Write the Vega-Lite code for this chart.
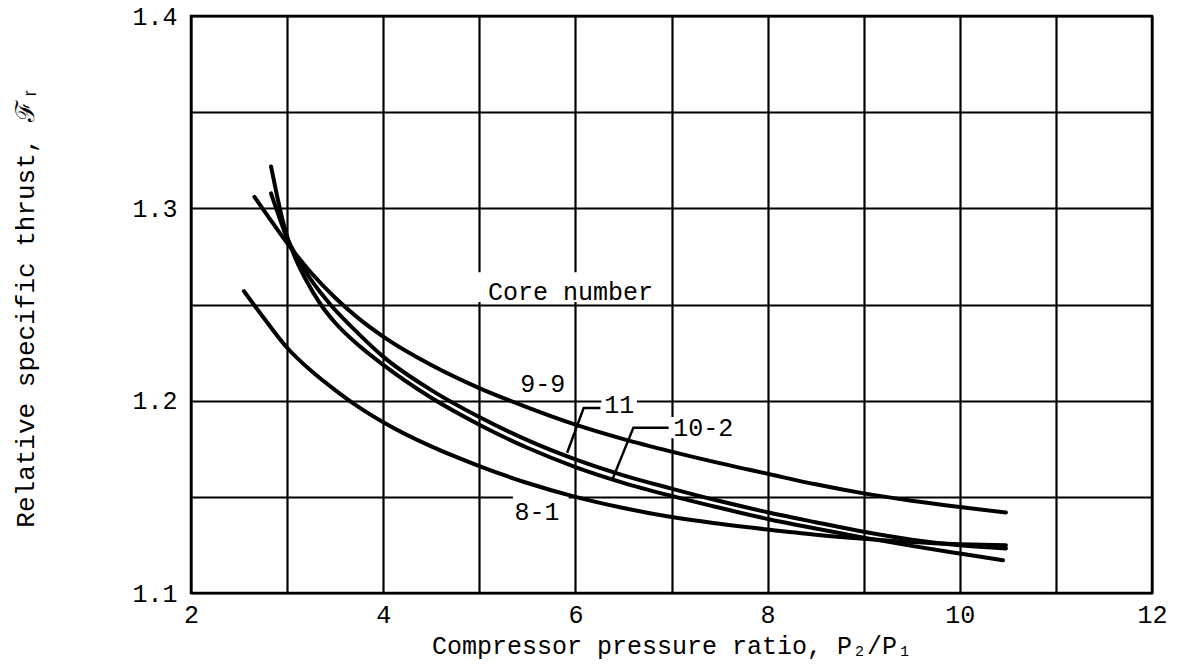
{
  "$schema": "https://vega.github.io/schema/vega-lite/v6.json",
  "width": 961,
  "height": 577,
  "autosize": {"type": "none"},
  "padding": {"left": 191, "top": 16, "right": 34, "bottom": 74},
  "background": "white",
  "config": {
    "view": {"stroke": "black", "strokeWidth": 2.5},
    "font": "Liberation Mono"
  },
  "datasets": {
    "curves": [
      {"core": "9-9", "x": 2.66, "y": 1.306}, {"core": "9-9", "x": 2.8, "y": 1.296}, {"core": "9-9", "x": 3.0, "y": 1.282},
      {"core": "9-9", "x": 3.25, "y": 1.2665}, {"core": "9-9", "x": 3.5, "y": 1.2535}, {"core": "9-9", "x": 3.75, "y": 1.2425},
      {"core": "9-9", "x": 4.0, "y": 1.2333}, {"core": "9-9", "x": 4.5, "y": 1.2185}, {"core": "9-9", "x": 5.0, "y": 1.2065},
      {"core": "9-9", "x": 5.5, "y": 1.1965}, {"core": "9-9", "x": 6.0, "y": 1.1875}, {"core": "9-9", "x": 6.5, "y": 1.18},
      {"core": "9-9", "x": 7.0, "y": 1.1735}, {"core": "9-9", "x": 7.5, "y": 1.1675}, {"core": "9-9", "x": 8.0, "y": 1.162},
      {"core": "9-9", "x": 8.5, "y": 1.1565}, {"core": "9-9", "x": 9.0, "y": 1.1518}, {"core": "9-9", "x": 9.5, "y": 1.148},
      {"core": "9-9", "x": 10.0, "y": 1.1447}, {"core": "9-9", "x": 10.48, "y": 1.1418},

      {"core": "11", "x": 2.833, "y": 1.3078}, {"core": "11", "x": 2.9, "y": 1.298}, {"core": "11", "x": 3.0, "y": 1.2845},
      {"core": "11", "x": 3.1, "y": 1.2748}, {"core": "11", "x": 3.25, "y": 1.2628}, {"core": "11", "x": 3.45, "y": 1.25},
      {"core": "11", "x": 3.75, "y": 1.2345}, {"core": "11", "x": 4.0, "y": 1.2229}, {"core": "11", "x": 4.5, "y": 1.2055},
      {"core": "11", "x": 5.0, "y": 1.1915}, {"core": "11", "x": 5.5, "y": 1.1795}, {"core": "11", "x": 6.0, "y": 1.1695},
      {"core": "11", "x": 6.5, "y": 1.1612}, {"core": "11", "x": 7.0, "y": 1.1543}, {"core": "11", "x": 7.5, "y": 1.1478},
      {"core": "11", "x": 8.0, "y": 1.142}, {"core": "11", "x": 8.5, "y": 1.1368}, {"core": "11", "x": 9.0, "y": 1.1318},
      {"core": "11", "x": 9.5, "y": 1.1277}, {"core": "11", "x": 10.0, "y": 1.1248}, {"core": "11", "x": 10.48, "y": 1.1232},

      {"core": "10-2", "x": 2.833, "y": 1.3218}, {"core": "10-2", "x": 2.9, "y": 1.3055}, {"core": "10-2", "x": 2.95, "y": 1.2945},
      {"core": "10-2", "x": 3.0, "y": 1.2855}, {"core": "10-2", "x": 3.1, "y": 1.2725}, {"core": "10-2", "x": 3.2, "y": 1.2625},
      {"core": "10-2", "x": 3.35, "y": 1.25}, {"core": "10-2", "x": 3.5, "y": 1.2405}, {"core": "10-2", "x": 3.75, "y": 1.2285},
      {"core": "10-2", "x": 4.0, "y": 1.2186}, {"core": "10-2", "x": 4.5, "y": 1.2015}, {"core": "10-2", "x": 5.0, "y": 1.1875},
      {"core": "10-2", "x": 5.5, "y": 1.1755}, {"core": "10-2", "x": 6.0, "y": 1.1655}, {"core": "10-2", "x": 6.5, "y": 1.1573},
      {"core": "10-2", "x": 7.0, "y": 1.1505}, {"core": "10-2", "x": 7.5, "y": 1.1443}, {"core": "10-2", "x": 8.0, "y": 1.1385},
      {"core": "10-2", "x": 8.5, "y": 1.1335}, {"core": "10-2", "x": 9.0, "y": 1.1288}, {"core": "10-2", "x": 9.5, "y": 1.1245},
      {"core": "10-2", "x": 10.0, "y": 1.1205}, {"core": "10-2", "x": 10.45, "y": 1.117},

      {"core": "8-1", "x": 2.55, "y": 1.257}, {"core": "8-1", "x": 2.75, "y": 1.2435}, {"core": "8-1", "x": 3.0, "y": 1.2275},
      {"core": "8-1", "x": 3.25, "y": 1.2155}, {"core": "8-1", "x": 3.5, "y": 1.2055}, {"core": "8-1", "x": 3.75, "y": 1.1965},
      {"core": "8-1", "x": 4.0, "y": 1.1888}, {"core": "8-1", "x": 4.5, "y": 1.1762}, {"core": "8-1", "x": 5.0, "y": 1.166},
      {"core": "8-1", "x": 5.5, "y": 1.1572}, {"core": "8-1", "x": 6.0, "y": 1.15}, {"core": "8-1", "x": 6.5, "y": 1.1442},
      {"core": "8-1", "x": 7.0, "y": 1.1395}, {"core": "8-1", "x": 7.5, "y": 1.136}, {"core": "8-1", "x": 8.0, "y": 1.133},
      {"core": "8-1", "x": 8.5, "y": 1.1303}, {"core": "8-1", "x": 9.0, "y": 1.1282}, {"core": "8-1", "x": 9.5, "y": 1.1265},
      {"core": "8-1", "x": 10.0, "y": 1.1254}, {"core": "8-1", "x": 10.48, "y": 1.1248}
    ],
    "labels": [
      {"text": "Core number", "x": 5.95, "y": 1.2566},
      {"text": "9-9", "x": 5.66, "y": 1.2088},
      {"text": "11", "x": 6.455, "y": 1.198},
      {"text": "10-2", "x": 7.33, "y": 1.1857},
      {"text": "8-1", "x": 5.6, "y": 1.1419}
    ],
    "boxes": [
      {"name": "Core number", "x": 4.97, "x2": 6.9, "y": 1.2513, "y2": 1.2668},
      {"name": "11", "x": 6.27, "x2": 6.64, "y": 1.1935, "y2": 1.2045},
      {"name": "10-2", "x": 6.99, "x2": 7.68, "y": 1.1805, "y2": 1.1915},
      {"name": "8-1", "x": 5.35, "x2": 5.93, "y": 1.137, "y2": 1.1525}
    ],
    "leaders": [
      {"id": "11", "o": 1, "x": 5.914, "y": 1.1729},
      {"id": "11", "o": 2, "x": 6.086, "y": 1.1962},
      {"id": "11", "o": 3, "x": 6.26, "y": 1.1962},
      {"id": "10-2", "o": 1, "x": 6.379, "y": 1.1583},
      {"id": "10-2", "o": 2, "x": 6.603, "y": 1.1859},
      {"id": "10-2", "o": 3, "x": 6.97, "y": 1.1859}
    ]
  },
  "encoding": {
    "x": {
      "field": "x", "type": "quantitative",
      "scale": {"domain": [2, 12], "nice": false, "zero": false},
      "axis": {
        "values": [2, 3, 4, 5, 6, 7, 8, 9, 10, 11, 12],
        "labelExpr": "datum.value % 2 === 0 ? datum.label : ''",
        "grid": true, "gridColor": "black", "gridWidth": 2.2, "gridOpacity": 1,
        "domain": false, "ticks": false,
        "labelFont": "Liberation Mono", "labelFontSize": 25, "labelColor": "black", "labelPadding": 9,
        "labelFlush": false, "labelOverlap": false,
        "title": "Compressor pressure ratio, P₂/P₁",
        "titleFont": "Liberation Mono", "titleFontSize": 25, "titleFontWeight": "normal", "titleColor": "black",
        "titleBaseline": "top", "titleY": 40
      }
    },
    "y": {
      "field": "y", "type": "quantitative",
      "scale": {"domain": [1.1, 1.4], "nice": false, "zero": false},
      "axis": {
        "values": [1.1, 1.15, 1.2, 1.25, 1.3, 1.35, 1.4],
        "labelExpr": "abs(datum.value * 10 - round(datum.value * 10)) < 0.01 ? format(datum.value, '.1f') : ''",
        "grid": true, "gridColor": "black", "gridWidth": 2.2, "gridOpacity": 1,
        "domain": false, "ticks": false,
        "labelFont": "Liberation Mono", "labelFontSize": 25, "labelColor": "black", "labelPadding": 14,
        "labelFlush": false, "labelOverlap": false,
        "title": "Relative specific thrust, ℱᵣ",
        "titleFont": "Liberation Mono", "titleFontSize": 26, "titleFontWeight": "normal", "titleColor": "black",
        "titleBaseline": "alphabetic", "titleX": -158, "titleY": 290, "titleAlign": "center", "titleAngle": -90
      }
    }
  },
  "layer": [
    {
      "data": {"name": "boxes"},
      "mark": {"type": "rect", "fill": "white", "stroke": null},
      "encoding": {"x2": {"field": "x2"}, "y2": {"field": "y2"}}
    },
    {
      "data": {"name": "curves"},
      "mark": {"type": "line", "color": "black", "strokeWidth": 4, "interpolate": "monotone", "strokeCap": "round"},
      "encoding": {"detail": {"field": "core", "type": "nominal"}}
    },
    {
      "data": {"name": "leaders"},
      "mark": {"type": "line", "color": "black", "strokeWidth": 2.4},
      "encoding": {"detail": {"field": "id", "type": "nominal"}, "order": {"field": "o", "type": "quantitative"}}
    },
    {
      "data": {"name": "labels"},
      "mark": {"type": "text", "font": "Liberation Mono", "fontSize": 25, "color": "black", "align": "center", "baseline": "middle"},
      "encoding": {"text": {"field": "text", "type": "nominal"}}
    }
  ]
}
